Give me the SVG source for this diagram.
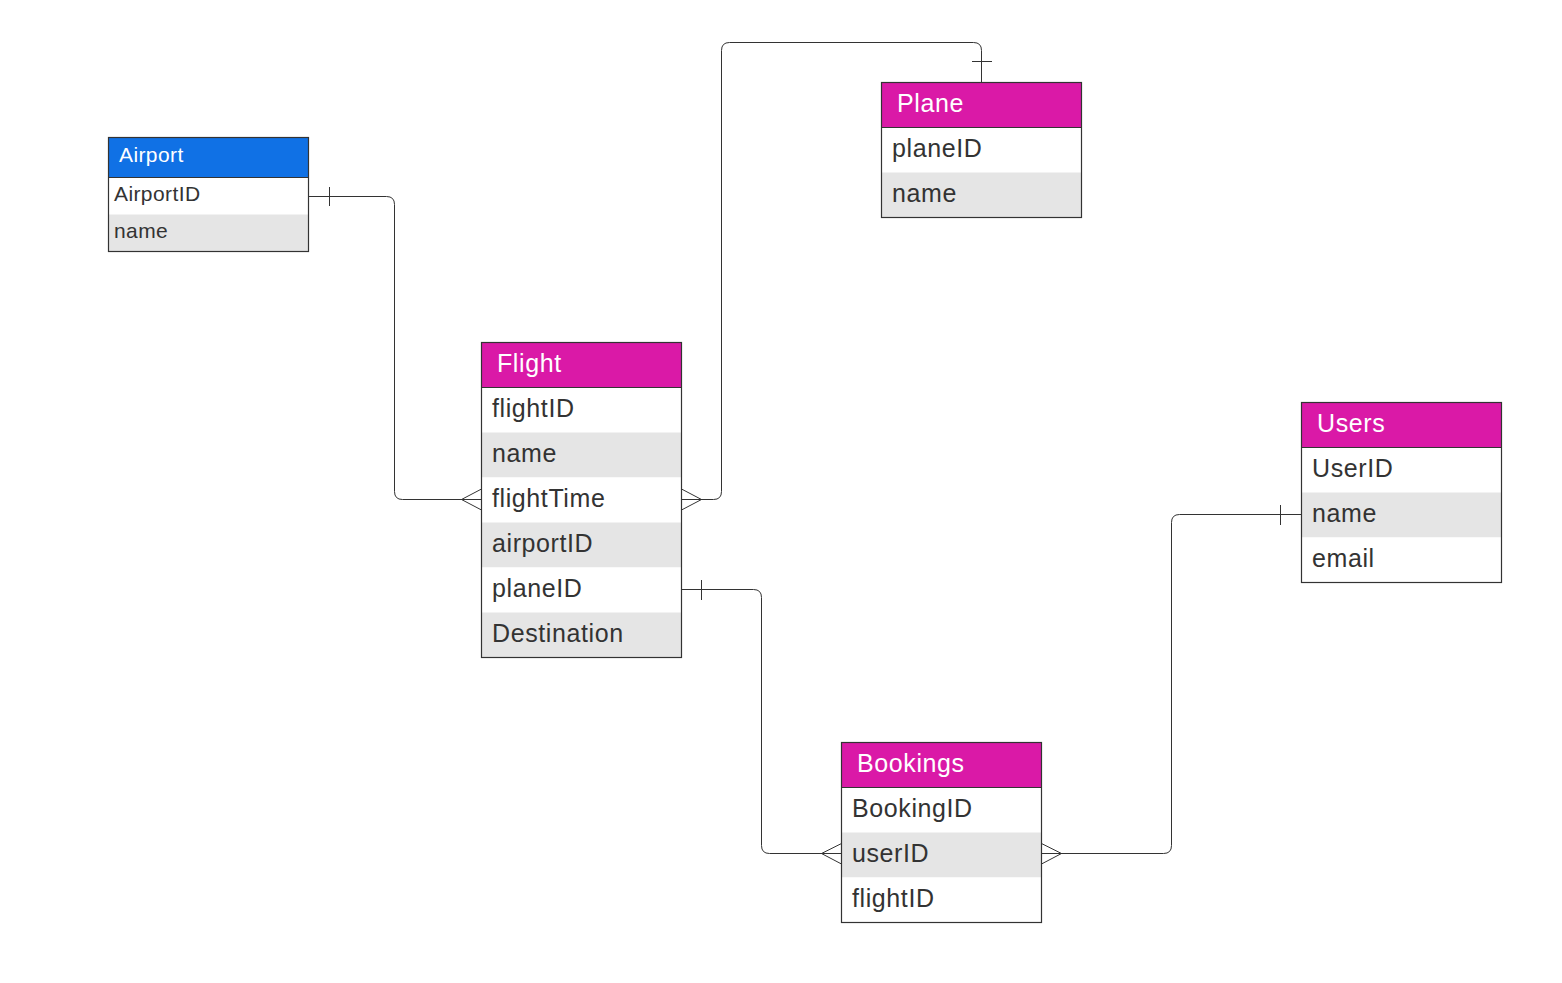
<svg xmlns="http://www.w3.org/2000/svg" width="1562" height="983" viewBox="0 0 1562 983">
<style>
.hdr{fill:#DA19A7;stroke:#333;stroke-width:1}
.hdrb{fill:#1071E5;stroke:#333;stroke-width:1}
.w{fill:#fff}
.g{fill:#E5E5E5}
.box{fill:none;stroke:#333;stroke-width:1.2}
.ht{font-family:"Liberation Sans",Arial,sans-serif;font-size:25px;fill:#fff;letter-spacing:0.6px}
.rt{font-family:"Liberation Sans",Arial,sans-serif;font-size:25px;fill:#333;letter-spacing:0.6px}
.hts{font-family:"Liberation Sans",Arial,sans-serif;font-size:21px;fill:#fff;letter-spacing:0.4px}
.rts{font-family:"Liberation Sans",Arial,sans-serif;font-size:21px;fill:#333;letter-spacing:0.4px}
.c{fill:none;stroke:#333;stroke-width:1}
</style>
<rect width="1562" height="983" fill="#fff"/>

<g id="airport">
<rect x="108.5" y="137.5" width="200" height="40" class="hdrb"/>
<rect x="108.5" y="177.5" width="200" height="37" class="w"/>
<rect x="108.5" y="214.5" width="200" height="37" class="g"/>
<rect x="108.5" y="137.5" width="200" height="114" class="box"/>
<line x1="108.5" y1="177.5" x2="308.5" y2="177.5" stroke="#333"/>
<text x="119" y="161.5" class="hts">Airport</text>
<text x="114" y="200.5" class="rts">AirportID</text>
<text x="114" y="237.5" class="rts">name</text>
</g>

<g id="flight">
<rect x="481.5" y="342.5" width="200" height="45" class="hdr"/>
<rect x="481.5" y="387.5" width="200" height="45" class="w"/>
<rect x="481.5" y="432.5" width="200" height="45" class="g"/>
<rect x="481.5" y="477.5" width="200" height="45" class="w"/>
<rect x="481.5" y="522.5" width="200" height="45" class="g"/>
<rect x="481.5" y="567.5" width="200" height="45" class="w"/>
<rect x="481.5" y="612.5" width="200" height="45" class="g"/>
<rect x="481.5" y="342.5" width="200" height="315" class="box"/>
<line x1="481.5" y1="387.5" x2="681.5" y2="387.5" stroke="#333"/>
<text x="497" y="371.5" class="ht">Flight</text>
<text x="492" y="416.5" class="rt">flightID</text>
<text x="492" y="461.5" class="rt">name</text>
<text x="492" y="506.5" class="rt">flightTime</text>
<text x="492" y="551.5" class="rt">airportID</text>
<text x="492" y="596.5" class="rt">planeID</text>
<text x="492" y="641.5" class="rt">Destination</text>
</g>

<g id="plane">
<rect x="881.5" y="82.5" width="200" height="45" class="hdr"/>
<rect x="881.5" y="127.5" width="200" height="45" class="w"/>
<rect x="881.5" y="172.5" width="200" height="45" class="g"/>
<rect x="881.5" y="82.5" width="200" height="135" class="box"/>
<line x1="881.5" y1="127.5" x2="1081.5" y2="127.5" stroke="#333"/>
<text x="897" y="111.5" class="ht">Plane</text>
<text x="892" y="156.5" class="rt">planeID</text>
<text x="892" y="201.5" class="rt">name</text>
</g>

<g id="users">
<rect x="1301.5" y="402.5" width="200" height="45" class="hdr"/>
<rect x="1301.5" y="447.5" width="200" height="45" class="w"/>
<rect x="1301.5" y="492.5" width="200" height="45" class="g"/>
<rect x="1301.5" y="537.5" width="200" height="45" class="w"/>
<rect x="1301.5" y="402.5" width="200" height="180" class="box"/>
<line x1="1301.5" y1="447.5" x2="1501.5" y2="447.5" stroke="#333"/>
<text x="1317" y="431.5" class="ht">Users</text>
<text x="1312" y="476.5" class="rt">UserID</text>
<text x="1312" y="521.5" class="rt">name</text>
<text x="1312" y="566.5" class="rt">email</text>
</g>

<g id="bookings">
<rect x="841.5" y="742.5" width="200" height="45" class="hdr"/>
<rect x="841.5" y="787.5" width="200" height="45" class="w"/>
<rect x="841.5" y="832.5" width="200" height="45" class="g"/>
<rect x="841.5" y="877.5" width="200" height="45" class="w"/>
<rect x="841.5" y="742.5" width="200" height="180" class="box"/>
<line x1="841.5" y1="787.5" x2="1041.5" y2="787.5" stroke="#333"/>
<text x="857" y="771.5" class="ht">Bookings</text>
<text x="852" y="816.5" class="rt">BookingID</text>
<text x="852" y="861.5" class="rt">userID</text>
<text x="852" y="906.5" class="rt">flightID</text>
</g>

<g id="connectors">
<!-- Airport -> Flight -->
<path class="c" d="M308.5,196.5 H386.5 Q394.5,196.5 394.5,204.5 V491.5 Q394.5,499.5 402.5,499.5 H481.5"/>
<line class="c" x1="329.5" y1="187" x2="329.5" y2="206"/>
<path class="c" d="M481.5,489 L461.5,499.5 L481.5,510"/>
<!-- Flight -> Plane -->
<path class="c" d="M681.5,499.5 H713.5 Q721.5,499.5 721.5,491.5 V50.5 Q721.5,42.5 729.5,42.5 H973.5 Q981.5,42.5 981.5,50.5 V82.5"/>
<line class="c" x1="972" y1="61.5" x2="992" y2="61.5"/>
<path class="c" d="M681.5,489 L701.5,499.5 L681.5,510"/>
<!-- Flight -> Bookings -->
<path class="c" d="M681.5,589.5 H753.5 Q761.5,589.5 761.5,597.5 V845.5 Q761.5,853.5 769.5,853.5 H841.5"/>
<line class="c" x1="701.5" y1="580" x2="701.5" y2="600"/>
<path class="c" d="M841.5,843.5 L821.5,853.5 L841.5,864"/>
<!-- Bookings -> Users -->
<path class="c" d="M1041.5,853.5 H1163.5 Q1171.5,853.5 1171.5,845.5 V522.5 Q1171.5,514.5 1179.5,514.5 H1301.5"/>
<line class="c" x1="1280.5" y1="505" x2="1280.5" y2="525"/>
<path class="c" d="M1041.5,843.5 L1061.5,853.5 L1041.5,864"/>
</g>
</svg>
